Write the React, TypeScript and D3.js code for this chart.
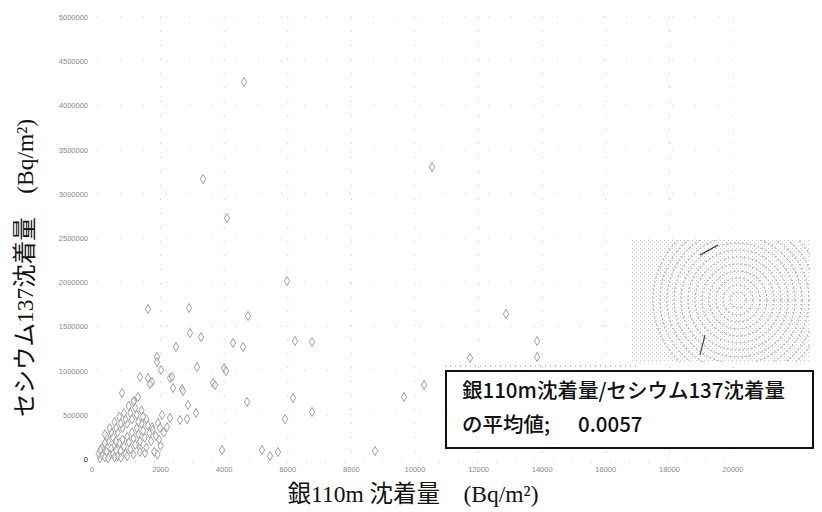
import React from "react";
import * as d3 from "d3";

const xTicks = [0, 2000, 4000, 6000, 8000, 10000, 12000, 14000, 16000, 18000, 20000];
const yTicks = [0, 500000, 1000000, 1500000, 2000000, 2500000, 3000000, 3500000, 4000000, 4500000, 5000000];

const agValues = [
  4623, 3334, 4088, 10536, 5975, 1604, 2893, 4749, 2925, 3271, 2485, 4277, 4592, 6227, 6761, 1887, 3145, 3994,
  2296, 2390, 2673, 3648, 1352, 1604, 1730, 1667, 786, 1289, 1164, 4718, 6164, 6761, 5913, 2862, 3114, 2831,
  2610, 2296, 2044, 1918, 1730, 1981, 3931, 5189, 5441, 5692, 1352, 1510, 12863, 13838, 13838, 11731, 10284,
  9655, 8743, 3711, 4057, 2013, 2359, 2705, 1887,
  100, 150, 250, 300, 400, 450, 500, 550, 600, 650, 700, 750, 800, 850, 900, 950, 1000, 1050, 1100, 1150, 1200,
  1250, 1300, 1350, 1400, 1450, 1500, 1550, 1600, 1650, 200, 350, 500, 650, 800, 950, 1100, 1250, 1400, 300, 450,
  600, 750, 900, 1050, 1200, 150, 250, 50, 100, 350, 550, 750, 950, 1150, 1350, 1550, 1700, 1800, 1900, 2000,
  1750, 1850, 1950, 2100, 2200, 1000, 1150, 850, 700, 550, 400, 250, 600, 1300, 1450,
];
const csValues = [
  4265000, 3167000, 2726000, 3303000, 2014000, 1697000, 1708000, 1618000, 1425000, 1380000, 1267000, 1312000,
  1267000, 1335000, 1324000, 1154000, 1040000, 1029000, 916000, 803000, 792000, 860000, 928000, 916000, 871000,
  848000, 747000, 701000, 656000, 645000, 690000, 532000, 452000, 611000, 520000, 452000, 441000, 464000, 498000,
  407000, 362000, 351000, 102000, 102000, 34000, 79000, 124000, 68000, 1640000, 1335000, 1154000, 1142000, 837000,
  701000, 90000, 837000, 995000, 1007000, 928000, 769000, 1097000,
  10000, 50000, 20000, 80000, 40000, 120000, 60000, 150000, 100000, 30000, 180000, 90000, 220000, 140000, 60000,
  250000, 190000, 110000, 300000, 230000, 160000, 350000, 280000, 200000, 400000, 320000, 240000, 450000, 380000,
  290000, 150000, 200000, 250000, 300000, 350000, 400000, 450000, 500000, 550000, 250000, 300000, 350000, 400000,
  450000, 520000, 580000, 120000, 180000, 60000, 100000, 10000, 20000, 15000, 30000, 50000, 80000, 130000, 200000,
  80000, 50000, 150000, 330000, 260000, 220000, 300000, 360000, 600000, 650000, 520000, 480000, 420000, 350000,
  280000, 200000, 420000, 480000,
];

const yTitle = "セシウム137沈着量　(Bq/m²)";
const xTitle = "銀110m 沈着量　(Bq/m²)";
const noteLine1 = "銀110m沈着量/セシウム137沈着量";
const noteLine2 = "の平均値;";
const noteValue = "0.0057";

export default function App() {
  const W = 822, H = 512;
  const x = d3.scaleLinear().domain([0, 20000]).range([97, 733]);
  const y = d3.scaleLinear().domain([0, 5000000]).range([459, 17]);
  const diamond = d3.symbol().type(d3.symbolDiamond).size(24)() as string;
  const fmt = (v: number) => String(v);
  const pts = agValues.map((a, i) => ({ a, c: csValues[i] }));
  const circles = d3.range(8, 90, 7);
  const serif = "'Liberation Serif', 'Noto Sans CJK JP', serif";
  return (
    <div style={{ position: "absolute", left: 0, top: 0 }}>
      <svg width={W} height={H} style={{ display: "block", background: "#fff" }}>
        <defs>
          <clipPath id="inset">
            <rect x={632} y={240} width={178} height={122} />
          </clipPath>
          <pattern id="speck" width="4" height="4" patternUnits="userSpaceOnUse">
            <rect width="4" height="4" fill="#fff" />
            <rect x="0" y="0" width="1" height="1" fill="#c8c8c8" />
            <rect x="2" y="2" width="1" height="1" fill="#d8d8d8" />
          </pattern>
        </defs>
        {xTicks.slice(1).map((t) => (
          <line key={"gx" + t} x1={x(t)} x2={x(t)} y1={y(5000000)} y2={y(0)} stroke="#c4c4c4" strokeWidth={1} strokeDasharray="1 13" />
        ))}
        {yTicks.slice(1).map((t) => (
          <line key={"gy" + t} x1={x(0)} x2={x(20000)} y1={y(t)} y2={y(t)} stroke="#d0d0d0" strokeWidth={1} strokeDasharray="1 22" />
        ))}
        <line x1={x(0)} x2={x(20000)} y1={y(0) + 3} y2={y(0) + 3} stroke="#c8c8c8" strokeDasharray="1 18" />
        <g clipPath="url(#inset)">
          <rect x={632} y={240} width={178} height={122} fill="url(#speck)" />
          {circles.map((r) => (
            <circle key={r} cx={738} cy={300} r={r} fill="none" stroke="#aaa" strokeWidth={1.1} strokeDasharray="2 2" />
          ))}
          <line x1={700} y1={255} x2={718} y2={245} stroke="#333" strokeWidth={1.3} />
          <line x1={705} y1={335} x2={700} y2={355} stroke="#444" strokeWidth={1.1} />
        </g>
        {pts.map((p, i) => (
          <path key={i} d={diamond} transform={`translate(${x(p.a)},${y(p.c)})`} fill="#fff" fillOpacity={0.5} stroke="#a2a2a2" strokeWidth={1} />
        ))}
        {yTicks.map((t) => (
          <text key={"yl" + t} x={88} y={y(t) + 3} textAnchor="end" fontSize={7.5} fill={t === 0 ? "#111" : "#8a8a8a"} fontFamily="Liberation Sans, sans-serif">
            {fmt(t)}
          </text>
        ))}
        {xTicks.map((t) => (
          <text key={"xl" + t} x={x(t) - (t === 0 ? 5 : 0)} y={472} textAnchor="middle" fontSize={7.5} fill="#8a8a8a" fontFamily="Liberation Sans, sans-serif">
            {fmt(t)}
          </text>
        ))}
        <text transform={`translate(33,268) rotate(-90)`} textAnchor="middle" fontSize={23.5} fill="#111" fontFamily={serif}>
          {yTitle}
        </text>
        <text x={413} y={502} textAnchor="middle" fontSize={23.5} fill="#111" fontFamily={serif}>
          {xTitle}
        </text>
        <line x1={445} x2={640} y1={366} y2={366} stroke="#888" strokeDasharray="1 4" />
        <rect x={446} y={371} width={367} height={77} fill="#fff" stroke="#111" strokeWidth={2} />
        <text x={462} y={398} fontSize={20.5} fill="#111" fontFamily="'Noto Sans CJK JP', sans-serif" fontWeight={500}>
          {noteLine1}
        </text>
        <text x={462} y={432} fontSize={20.5} fill="#111" fontFamily="'Noto Sans CJK JP', sans-serif" fontWeight={500}>
          {noteLine2}
        </text>
        <text x={578} y={432} fontSize={20.5} fill="#111" fontFamily="'Noto Sans CJK JP', sans-serif" fontWeight={500}>
          {noteValue}
        </text>
      </svg>
    </div>
  );
}
